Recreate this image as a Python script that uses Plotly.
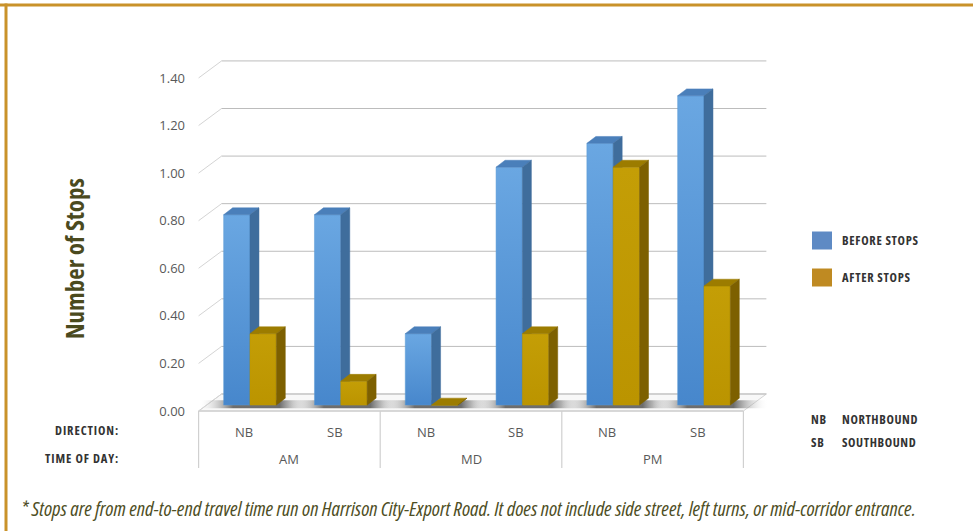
import plotly.graph_objects as go

# ---------------- data ----------------
times = ["AM", "MD", "PM"]
directions = ["NB", "SB", "NB", "SB", "NB", "SB"]
before_stops = [0.8, 0.8, 0.3, 1.0, 1.1, 1.3]
after_stops = [0.3, 0.1, 0.0, 0.3, 1.0, 0.5]
y_ticks = [0.0, 0.2, 0.4, 0.6, 0.8, 1.0, 1.2, 1.4]
y_tick_labels = ["0.00", "0.20", "0.40", "0.60", "0.80", "1.00", "1.20", "1.40"]
series_names = ["BEFORE STOPS", "AFTER STOPS"]
abbr = [("NB", "NORTHBOUND"), ("SB", "SOUTHBOUND")]
footnote = ("* Stops are from end-to-end travel time run on Harrison City-Export Road. "
            "It does not include side street, left turns, or mid-corridor entrance.")

# ---------------- layout geometry ----------------
W, H = 973, 531
ML, MR, MT, MB = 196, 183, 40, 51
PW, PH = W - ML - MR, H - MT - MB
PX_PER_X = 90.8
PX_PER_Y = 237.9
X0_PX = 244.0      # pixel of category index 0
Y0_PX = 411.0      # pixel of value 0 (front plane)
x_range = [(ML - X0_PX) / PX_PER_X, (W - MR - X0_PX) / PX_PER_X]
y_range = [(Y0_PX - (H - MB)) / PX_PER_Y, (Y0_PX - MT) / PX_PER_Y]


def px2paper(px, py):
    return (px - ML) / PW, (H - MB - py) / PH


# 3D look (data units)
BAR_W = 0.29
SHIFT = 0.066
DX, DY = 0.099, 0.029
BASE = 0.025
FDX, FDY = 0.253, 0.0715

GRID = "#bcbcbc"
WALL = "#d4d4d4"

fig = go.Figure()

n = len(directions)
xl, xr = -0.5, n - 0.5

# floor
fig.add_trace(go.Scatter(
    x=[xl, xr, xr + FDX, xl + FDX, xl], y=[0, 0, FDY, FDY, 0],
    fill="toself", fillcolor="#f8f8f8", mode="lines",
    line=dict(color=WALL, width=1), hoverinfo="skip", showlegend=False))
# front floor edge
fig.add_trace(go.Scatter(x=[xl, xr], y=[0, 0], mode="lines",
                         line=dict(color="#c8c8c8", width=1.2),
                         hoverinfo="skip", showlegend=False))

# side-wall diagonals and back gridlines
for v in y_ticks:
    fig.add_trace(go.Scatter(x=[xl, xl + FDX], y=[v, v + FDY], mode="lines",
                             line=dict(color=WALL, width=1),
                             hoverinfo="skip", showlegend=False))
    fig.add_trace(go.Scatter(x=[xl + FDX, xr + FDX], y=[v + FDY, v + FDY], mode="lines",
                             line=dict(color=GRID, width=1),
                             hoverinfo="skip", showlegend=False))

# category dividers
div_bottom = (Y0_PX - 468) / PX_PER_Y
for xd in [xl, 1.5, 3.5, xr]:
    fig.add_trace(go.Scatter(x=[xd, xd], y=[0, div_bottom], mode="lines",
                             line=dict(color="#d0d0d0", width=1.2),
                             hoverinfo="skip", showlegend=False))

# shadows on the floor
for i in range(n):
    s0 = i + SHIFT - BAR_W - 0.28
    s1 = i + SHIFT + BAR_W + DX + 0.32
    fig.add_trace(go.Scatter(
        x=[s0, s1, s1, s0, s0], y=[0.012, 0.012, 0.045, 0.045, 0.012],
        fill="toself", mode="lines", line=dict(width=0),
        fillgradient=dict(type="horizontal",
                          colorscale=[[0, "rgba(255,255,255,0)"],
                                      [0.3, "rgba(50,50,50,0.7)"],
                                      [0.7, "rgba(50,50,50,0.7)"],
                                      [1, "rgba(255,255,255,0)"]]),
        hoverinfo="skip", showlegend=False))

styles = [
    dict(front=[[0, "#4787cc"], [1, "#6aa7e2"]], fmid="#5b9bd5", top="#4a7fba", side="#3f6d9c"),
    dict(front=[[0, "#bb9400"], [1, "#c49e06"]], fmid="#bf9a00", top="#9c7c00", side="#7d6000"),
]


def add_bar(xc0, v, st):
    x1 = xc0 + BAR_W
    t = BASE + v
    fig.add_trace(go.Scatter(
        x=[xc0, x1, x1, xc0, xc0], y=[BASE, BASE, t, t, BASE],
        fill="toself", mode="lines", line=dict(color=st["fmid"], width=0.5),
        fillgradient=dict(type="vertical", colorscale=st["front"]),
        hoverinfo="skip", showlegend=False))
    fig.add_trace(go.Scatter(
        x=[xc0, x1, x1 + DX, xc0 + DX, xc0], y=[t, t, t + DY, t + DY, t],
        fill="toself", fillcolor=st["top"], mode="lines",
        line=dict(color=st["top"], width=0.5), hoverinfo="skip", showlegend=False))
    fig.add_trace(go.Scatter(
        x=[x1, x1 + DX, x1 + DX, x1, x1], y=[BASE, BASE + DY, t + DY, t, BASE],
        fill="toself", fillcolor=st["side"], mode="lines",
        line=dict(color=st["side"], width=0.5), hoverinfo="skip", showlegend=False))


for i in range(n):
    add_bar(i + SHIFT - BAR_W, before_stops[i], styles[0])
    add_bar(i + SHIFT, after_stops[i], styles[1])

annotations = []
tick_font = dict(family="Open Sans, sans-serif", size=13, color="#595959")

# direction labels and time labels
y_dir = (Y0_PX - 432) / PX_PER_Y
y_time = (Y0_PX - 459) / PX_PER_Y
for i, d in enumerate(directions):
    annotations.append(dict(x=i, y=y_dir, xref="x", yref="y", text=d, showarrow=False,
                            font=tick_font, xanchor="center", yanchor="middle"))
for g, tname in enumerate(times):
    annotations.append(dict(x=2 * g + 0.5, y=y_time, xref="x", yref="y", text=tname,
                            showarrow=False, font=tick_font, xanchor="center", yanchor="middle"))


def cond(text, spacing=0.0, stretch="condensed"):
    return ('<span style="font-stretch:%s;letter-spacing:%.1fpx">%s</span>'
            % (stretch, spacing, text))


lab_font = dict(family="Open Sans", size=12.5, color="#333333", weight="bold")


def ann_px(px, py, text, font, xanchor="left", **kw):
    x, y = px2paper(px, py)
    d = dict(x=x, y=y, xref="paper", yref="paper", text=text, showarrow=False,
             font=font, xanchor=xanchor, yanchor="middle")
    d.update(kw)
    annotations.append(d)


ann_px(121, 430, cond("DIRECTION:", 0.9), lab_font, xanchor="right")
ann_px(121, 458, cond("TIME OF DAY:", 0.9), lab_font, xanchor="right")

# legend (custom)
shapes = []
leg_cols = ["#5e8ac4", "#bf8a22"]
for k, (name, col) in enumerate(zip(series_names, leg_cols)):
    yc = 240.5 + k * 37
    x0p, y0p = px2paper(812, yc - 9)
    x1p, y1p = px2paper(832, yc + 9)
    shapes.append(dict(type="rect", xref="paper", yref="paper", x0=x0p, x1=x1p,
                       y0=y1p, y1=y0p, fillcolor=col, line=dict(width=0)))
    ann_px(840, yc, cond(name, 0.7), lab_font)

for k, (a, full) in enumerate(abbr):
    yc = 419 + k * 23
    ann_px(809, yc, cond(a, 0.7), lab_font)
    ann_px(840, yc, cond(full, 0.6), lab_font)

# y title
ann_px(74, 259, cond("Number of Stops"),
       dict(family="Open Sans", size=25, color="#4b4a1e", weight="bold"),
       xanchor="center", textangle=-90)

# footnote
ann_px(19, 508, cond(footnote),
       dict(family="Open Sans", size=20.3, color="#4e4e24", style="italic"))

# gold frame
gx0, gy0 = px2paper(0, 5)
gx1, _ = px2paper(W, 5)
shapes.append(dict(type="line", xref="paper", yref="paper", x0=gx0, x1=gx1, y0=gy0, y1=gy0,
                   line=dict(color="#c9922a", width=3)))
lx, ly0 = px2paper(6, 3.5)
_, ly1 = px2paper(6, H)
shapes.append(dict(type="line", xref="paper", yref="paper", x0=lx, x1=lx, y0=ly0, y1=ly1,
                   line=dict(color="#c9922a", width=3)))

fig.update_layout(
    width=W, height=H,
    margin=dict(l=ML, r=MR, t=MT, b=MB),
    paper_bgcolor="white", plot_bgcolor="white",
    showlegend=False,
    xaxis=dict(range=x_range, showgrid=False, zeroline=False, showticklabels=False,
               showline=False, fixedrange=True),
    yaxis=dict(range=y_range, showgrid=False, zeroline=False, showline=False,
               tickvals=y_ticks, ticktext=y_tick_labels, ticks="",
               ticklabelstandoff=10, tickfont=tick_font, fixedrange=True),
    annotations=annotations,
    shapes=shapes,
)

fig.write_html("out.html")
